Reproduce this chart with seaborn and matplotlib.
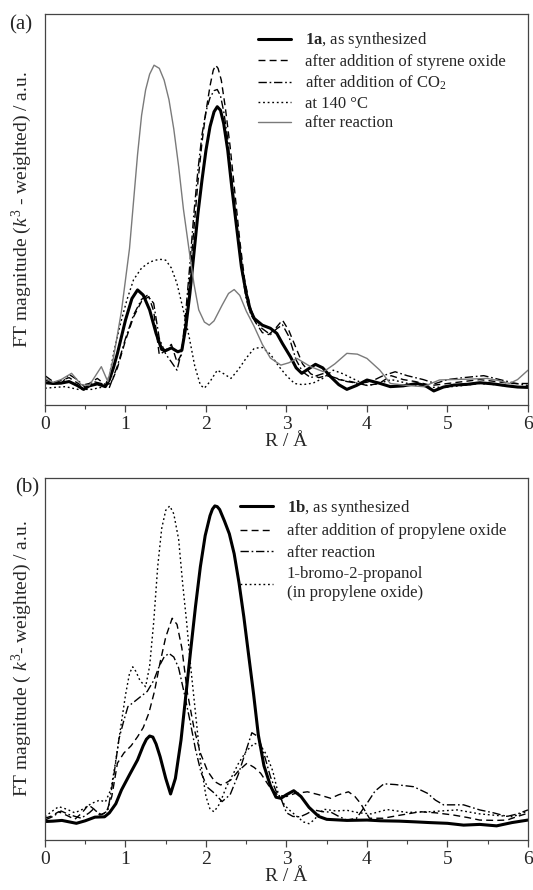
import numpy as np
import pandas as pd
import matplotlib
matplotlib.use("Agg")
import matplotlib.pyplot as plt
from matplotlib.ticker import MultipleLocator
import seaborn as sns

# ---------------- panel (a): catalyst 1a ----------------
R_1a = [0, 0.1, 0.2, 0.3, 0.4, 0.48, 0.55, 0.65, 0.75, 0.8,
        0.85, 0.9, 1.0, 1.08, 1.15, 1.22, 1.3, 1.38, 1.45, 1.5,
        1.57, 1.65, 1.7, 1.75, 1.8, 1.85, 1.9, 1.95, 2.0, 2.05,
        2.1, 2.14, 2.18, 2.22, 2.27, 2.32, 2.38, 2.44, 2.5, 2.55,
        2.6, 2.7, 2.8, 2.88, 2.95, 3.05, 3.12, 3.19, 3.27, 3.36,
        3.45, 3.55, 3.65, 3.75, 3.87, 4.0, 4.15, 4.29, 4.45, 4.62,
        4.72, 4.83, 4.95, 5.08, 5.25, 5.4, 5.57, 5.74, 5.87, 6.0]
I_1a = [5.7, 5.5, 5.6, 6.0, 5.0, 4.0, 4.9, 5.4, 4.7, 6.5,
        9.5, 13.2, 21.7, 27.2, 29.4, 28.1, 24.3, 18.3, 14.2, 13.9,
        14.6, 13.6, 14.0, 20.0, 28.5, 38.7, 48.9, 57.4, 65.1, 71.1,
        74.9, 76.2, 75.3, 71.9, 65.1, 55.7, 45.5, 35.3, 28.5, 24.3,
        22.1, 20.4, 19.6, 18.3, 15.7, 12.3, 9.5, 8.1, 9.2, 10.4,
        9.5, 7.2, 5.2, 4.0, 5.0, 6.4, 5.6, 4.7, 4.9, 5.5,
        5.0, 3.6, 4.6, 5.1, 5.3, 5.7, 5.4, 4.9, 4.6, 4.5]

R_so = [0, 0.1, 0.2, 0.3, 0.45, 0.55, 0.65, 0.75, 0.82, 0.9,
        1.0, 1.1, 1.2, 1.29, 1.35, 1.42, 1.5, 1.57, 1.64, 1.7,
        1.75, 1.8, 1.85, 1.9, 1.95, 2.0, 2.05, 2.09, 2.12, 2.15,
        2.19, 2.24, 2.3, 2.36, 2.42, 2.48, 2.55, 2.62, 2.7, 2.78,
        2.86, 2.95, 3.03, 3.12, 3.2, 3.3, 3.4, 3.5, 3.65, 3.8,
        4.0, 4.15, 4.3, 4.45, 4.6, 4.8, 5.0, 5.2, 5.4, 5.6,
        5.8, 6.0]
I_so = [6.5, 5.5, 6.3, 7.0, 5.0, 5.5, 6.8, 5.2, 5.5, 9.5,
        16.5, 22.5, 26.5, 27.7, 24.0, 12.8, 14.0, 15.5, 11.0, 13.0,
        22.0, 33.0, 45.0, 57.0, 67.0, 75.0, 81.5, 85.5, 86.8, 86.0,
        83.0, 76.0, 66.0, 54.0, 42.0, 32.0, 25.0, 21.0, 18.5, 18.0,
        19.5, 21.7, 19.0, 14.5, 10.5, 8.0, 7.0, 7.5, 6.5, 6.0,
        5.0, 5.5, 7.5, 6.5, 6.0, 5.0, 5.5, 6.0, 6.5, 6.0,
        5.5, 5.5]

R_co2 = [0, 0.1, 0.2, 0.3, 0.4, 0.5, 0.6, 0.7, 0.8, 0.9,
         1.0, 1.1, 1.2, 1.27, 1.35, 1.42, 1.5, 1.57, 1.64, 1.7,
         1.75, 1.8, 1.85, 1.9, 1.95, 2.0, 2.05, 2.1, 2.14, 2.18,
         2.22, 2.27, 2.32, 2.38, 2.44, 2.5, 2.56, 2.62, 2.7, 2.8,
         2.88, 2.95, 3.03, 3.12, 3.2, 3.3, 3.45, 3.6, 3.75, 3.9,
         4.05, 4.2, 4.35, 4.5, 4.7, 4.85, 5.0, 5.2, 5.45, 5.65,
         5.85, 6.0]
I_co2 = [7.5, 6.0, 5.5, 7.8, 6.5, 4.5, 6.0, 5.5, 4.5, 10.0,
         17.0, 23.0, 27.0, 28.0, 26.0, 17.0, 13.0, 11.0, 8.9, 14.0,
         24.0, 36.0, 49.0, 60.0, 69.0, 75.0, 78.5, 80.3, 80.6, 79.0,
         75.0, 68.0, 58.0, 46.0, 35.0, 27.0, 23.0, 21.0, 19.5, 18.0,
         19.5, 20.5, 17.5, 11.5, 8.5, 7.0, 8.0, 7.0, 6.0, 5.5,
         6.0, 7.5, 8.5, 7.5, 6.5, 5.5, 6.5, 7.0, 7.5, 6.5,
         5.5, 5.0]

R_140 = [0, 0.12, 0.25, 0.41, 0.58, 0.74, 0.8, 0.86, 0.94, 1.02,
         1.1, 1.2, 1.3, 1.37, 1.44, 1.5, 1.57, 1.64, 1.71, 1.79,
         1.86, 1.93, 1.98, 2.05, 2.14, 2.22, 2.31, 2.4, 2.5, 2.6,
         2.7, 2.8, 2.9, 3.0, 3.1, 3.2, 3.33, 3.45, 3.58, 3.7,
         3.85, 4.0, 4.15, 4.3, 4.45, 4.6, 4.8, 5.0, 5.2, 5.4,
         5.6, 5.8, 6.0]
I_140 = [4.3, 4.5, 4.7, 4.0, 4.0, 4.7, 7.5, 14.0, 21.0, 27.0,
         32.0, 35.0, 36.5, 37.0, 37.2, 37.0, 35.0, 31.0, 25.0, 17.5,
         10.0, 5.1, 4.3, 6.0, 8.9, 8.0, 6.8, 9.0, 12.0, 14.5,
         14.7, 13.0, 10.0, 7.5, 5.5, 5.2, 5.6, 6.8, 8.9, 8.0,
         6.5, 5.0, 5.5, 6.5, 5.8, 5.0, 4.5, 4.6, 5.0, 5.5,
         5.2, 4.7, 4.6]

R_rxa = [0, 0.1, 0.2, 0.33, 0.45, 0.55, 0.7, 0.78, 0.85, 0.95,
         1.05, 1.1, 1.15, 1.2, 1.25, 1.3, 1.355, 1.42, 1.48, 1.54,
         1.6, 1.66, 1.72, 1.79, 1.85, 1.91, 1.98, 2.04, 2.1, 2.2,
         2.28, 2.35, 2.42, 2.5, 2.6, 2.7, 2.8, 2.93, 3.03, 3.13,
         3.3, 3.46, 3.6, 3.75, 3.88, 4.0, 4.16, 4.29, 4.5, 4.7,
         4.9, 5.05, 5.24, 5.49, 5.65, 5.77, 5.87, 6.0]
I_rxa = [6.8, 5.8, 6.5, 8.1, 5.2, 5.0, 9.8, 6.0, 12.0, 24.0,
         40.0, 52.0, 64.0, 74.0, 80.5, 84.5, 86.8, 86.0, 83.0, 78.0,
         70.5, 61.0, 50.0, 39.6, 31.0, 24.3, 21.2, 20.4, 21.5, 25.5,
         28.5, 29.5, 28.0, 24.0, 20.0, 15.5, 12.0, 10.2, 10.8, 11.9,
         9.8, 8.5, 10.5, 13.2, 13.0, 11.9, 8.9, 5.5, 5.0, 4.7,
         6.4, 6.5, 6.6, 6.8, 6.2, 5.5, 6.5, 8.9]

# ---------------- panel (b): catalyst 1b ----------------
R_1b = [0, 0.1, 0.21, 0.3, 0.39, 0.5, 0.62, 0.74, 0.8, 0.88,
        0.95, 1.05, 1.15, 1.22, 1.26, 1.3, 1.34, 1.38, 1.43, 1.5,
        1.56, 1.62, 1.69, 1.75, 1.81, 1.87, 1.93, 1.99, 2.05, 2.08,
        2.11, 2.14, 2.17, 2.23, 2.29, 2.35, 2.41, 2.47, 2.53, 2.59,
        2.65, 2.72, 2.8, 2.87, 2.93, 3.0, 3.09, 3.18, 3.28, 3.4,
        3.5, 3.75, 4.0, 4.17, 4.4, 4.6, 4.78, 5.0, 5.2, 5.4,
        5.61, 5.8, 6.0]
I_1b = [5.1, 5.2, 5.4, 5.0, 4.6, 5.3, 6.3, 6.4, 7.5, 10.0,
        13.8, 18.0, 22.1, 26.0, 27.8, 28.7, 28.4, 26.5, 23.0, 17.0,
        12.7, 17.0, 27.6, 40.0, 52.4, 64.5, 75.4, 84.0, 89.5, 91.3,
        92.2, 92.0, 91.2, 88.0, 84.5, 79.0, 71.0, 61.6, 51.0, 40.5,
        29.0, 20.5, 15.0, 11.8, 11.5, 12.5, 13.6, 12.0, 9.0, 6.5,
        5.7, 5.4, 5.5, 5.3, 5.2, 5.0, 4.8, 4.6, 4.1, 4.3,
        3.9, 4.8, 5.5]

R_po = [0, 0.08, 0.17, 0.27, 0.37, 0.46, 0.54, 0.61, 0.68, 0.76,
        0.83, 0.9, 0.98, 1.07, 1.15, 1.22, 1.29, 1.36, 1.43, 1.5,
        1.58, 1.64, 1.7, 1.77, 1.85, 1.93, 2.02, 2.11, 2.18, 2.23,
        2.31, 2.4, 2.51, 2.6, 2.68, 2.78, 2.89, 3.0, 3.1, 3.26,
        3.4, 3.55, 3.65, 3.77, 3.85, 3.92, 4.03, 4.2, 4.4, 4.66,
        4.85, 5.07, 5.25, 5.4, 5.6, 5.74, 5.87, 6.0]
I_po = [6.0, 6.6, 7.8, 6.8, 5.7, 7.5, 9.7, 8.5, 6.9, 7.5,
        12.0, 21.2, 24.0, 26.0, 28.5, 31.0, 35.0, 41.0, 49.0, 56.0,
        61.2, 59.5, 53.0, 40.5, 31.0, 24.0, 19.0, 16.1, 15.2, 15.5,
        16.6, 19.0, 21.2, 20.0, 18.4, 15.0, 12.4, 12.0, 12.8, 13.3,
        12.5, 11.5, 12.5, 13.3, 12.0, 10.1, 6.0, 6.0, 6.8, 7.8,
        7.5, 6.9, 6.2, 5.5, 5.4, 5.5, 6.5, 7.4]

R_rxb = [0, 0.1, 0.2, 0.3, 0.45, 0.55, 0.6, 0.7, 0.78, 0.85,
         0.92, 0.98, 1.03, 1.1, 1.19, 1.27, 1.35, 1.42, 1.48, 1.54,
         1.6, 1.66, 1.73, 1.8, 1.87, 1.94, 2.02, 2.1, 2.2, 2.3,
         2.4, 2.48, 2.57, 2.65, 2.73, 2.8, 2.87, 2.93, 3.0, 3.08,
         3.17, 3.25, 3.34, 3.45, 3.55, 3.65, 3.75, 3.87, 4.0, 4.1,
         4.21, 4.35, 4.58, 4.75, 4.85, 4.95, 5.2, 5.4, 5.57, 5.74,
         5.87, 6.0]
I_rxb = [5.5, 6.5, 8.0, 7.0, 6.0, 7.5, 8.5, 7.0, 8.0, 17.0,
         28.0, 33.0, 36.8, 38.0, 39.6, 41.0, 44.0, 48.0, 50.5, 51.5,
         50.5, 47.5, 40.5, 33.0, 25.0, 18.5, 14.5, 13.0, 10.6, 12.5,
         18.0, 23.5, 29.6, 28.5, 23.0, 17.5, 13.5, 11.5, 7.5, 6.5,
         6.4, 7.2, 8.3, 7.8, 7.7, 6.5, 5.5, 6.0, 10.1, 13.5,
         15.5, 15.3, 14.7, 12.9, 11.0, 9.7, 9.7, 8.3, 7.5, 6.5,
         7.2, 8.3]

R_br = [0, 0.08, 0.17, 0.27, 0.37, 0.47, 0.58, 0.68, 0.75, 0.82,
        0.88, 0.94, 1.0, 1.05, 1.09, 1.13, 1.18, 1.25, 1.3, 1.35,
        1.4, 1.45, 1.5, 1.55, 1.6, 1.66, 1.71, 1.76, 1.81, 1.87,
        1.93, 2.0, 2.05, 2.1, 2.17, 2.25, 2.33, 2.4, 2.5, 2.6,
        2.68, 2.75, 2.83, 2.9, 2.98, 3.05, 3.13, 3.21, 3.28, 3.34,
        3.46, 3.62, 3.75, 3.9, 4.05, 4.25, 4.5, 4.78, 5.12, 5.4,
        5.6, 5.81, 6.0]
I_br = [6.4, 7.8, 9.2, 8.5, 7.5, 8.5, 10.1, 11.0, 10.5, 14.0,
        22.0, 31.0, 40.0, 46.0, 47.8, 46.5, 44.0, 42.3, 48.0, 60.0,
        75.4, 86.0, 91.0, 92.2, 90.0, 83.0, 70.8, 60.0, 47.8, 35.0,
        22.0, 12.0, 8.5, 7.8, 10.0, 14.5, 17.9, 21.0, 24.5, 26.7,
        26.0, 23.6, 19.0, 12.6, 9.5, 8.0, 6.5, 5.0, 4.5, 5.5,
        8.5, 8.0, 8.2, 7.5, 7.2, 8.4, 7.6, 7.8, 8.3, 7.2,
        6.8, 6.4, 8.0]

TICKS = [0, 1, 2, 3, 4, 5, 6]

sns.set_style("white")
plt.rcParams["font.family"] = ["Liberation Serif", "DejaVu Serif"]
plt.rcParams["mathtext.fontset"] = "custom"
plt.rcParams["mathtext.rm"] = "Liberation Serif"
plt.rcParams["mathtext.it"] = "Liberation Serif:italic"
plt.rcParams["mathtext.bf"] = "Liberation Serif:bold"

DASH = (0, (5, 3))
DASHDOT = (0, (6, 2, 1.2, 2))
DOT = (0, (1.3, 2))

fig = plt.figure(figsize=(5.33, 8.9), dpi=100)
ax_a = fig.add_axes([0.0844, 0.5449, 0.9062, 0.4399])
ax_b = fig.add_axes([0.0844, 0.0562, 0.9062, 0.4071])


def draw(ax, R, I, label, color="black", lw=1.0, ls="-"):
    df = pd.DataFrame({"R": R, "I": I})
    sns.lineplot(data=df, x="R", y="I", ax=ax, color=color, lw=lw,
                 linestyle=ls, label=label, sort=False, estimator=None)


draw(ax_a, R_1a, I_1a, r"$\mathbf{1a}$, as synthesized", lw=2.2)
draw(ax_a, R_so, I_so, "after addition of styrene oxide", ls=DASH)
draw(ax_a, R_co2, I_co2, r"after addition of CO$_2$", ls=DASHDOT)
draw(ax_a, R_140, I_140, "at 140 °C", ls=DOT)
draw(ax_a, R_rxa, I_rxa, "after reaction", color="#7a7a7a", lw=1.0)

draw(ax_b, R_1b, I_1b, r"$\mathbf{1b}$, as synthesized", lw=2.2)
draw(ax_b, R_po, I_po, "after addition of propylene oxide", ls=DASH)
draw(ax_b, R_rxb, I_rxb, "after reaction", ls=DASHDOT)
draw(ax_b, R_br, I_br, "1-bromo-2-propanol\n(in propylene oxide)", ls=DOT)

ylabels = [r"FT magnitude ($k^3$ - weighted) / a.u.",
           r"FT magnitude ( $k^3$- weighted) / a.u."]
legend_pos = [(0.441, 0.957), (0.404, 0.944)]
legend_spacing = [0.22, 0.33]

for ax, yl, lp, lsp in zip([ax_a, ax_b], ylabels, legend_pos, legend_spacing):
    ax.set_xlim(0, 6)
    ax.set_ylim(0, 100)
    ax.set_xticks(TICKS)
    ax.xaxis.set_minor_locator(MultipleLocator(0.5))
    ax.set_yticks([])
    ax.tick_params(axis="x", which="major", direction="out", length=5,
                   width=0.9, color="#444444", labelsize=14, pad=3,
                   bottom=True, top=False)
    ax.tick_params(axis="x", which="minor", direction="out", length=3,
                   width=0.8, color="#444444", bottom=True, top=False)
    for sp in ax.spines.values():
        sp.set_visible(True)
        sp.set_color("#444444")
        sp.set_linewidth(0.9)
    ax.set_xlabel("R / Å", fontsize=14, labelpad=0)
    ax.set_ylabel(yl, fontsize=14, labelpad=8)
    ax.legend(loc="upper left", bbox_to_anchor=lp, frameon=False,
              fontsize=12, handlelength=2.0, handletextpad=0.8,
              labelspacing=lsp, borderpad=0, borderaxespad=0)

fig.text(0.018, 0.972, "(a)", fontsize=15, ha="left", va="center")
fig.text(0.028, 0.452, "(b)", fontsize=15, ha="left", va="center")

fig.savefig("out.png", dpi=100)
